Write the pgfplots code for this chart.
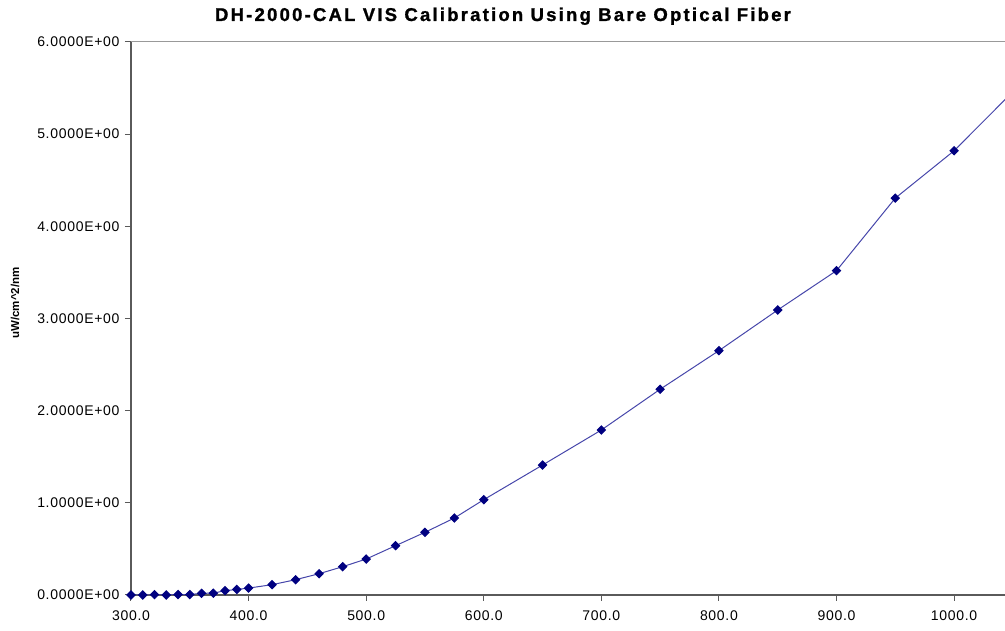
\documentclass[border=0pt]{standalone}
\usepackage{pgfplots}
\pgfplotsset{compat=1.18}
\usepackage{fontspec}
\setmainfont{Liberation Sans}
\newfontfamily\titlefont[LetterSpace=12,FakeBold=1.2]{Liberation Sans Bold}
\newfontfamily\tickfont[LetterSpace=5]{Liberation Sans}
\definecolor{navy}{RGB}{0,0,128}
\definecolor{lineblue}{RGB}{70,70,170}
\definecolor{axgray}{RGB}{90,90,90}
\begin{document}
\begin{tikzpicture}
\path[use as bounding box] (-131pt,-36pt) rectangle (874pt,595pt);
\begin{axis}[
  at={(0,0)}, anchor=south west,
  scale only axis, width=874pt, height=553pt,
  xmin=300, xmax=1043.3, ymin=0, ymax=6,
  axis x line*=bottom, axis y line*=left,
  axis line style={axgray, line width=1.2pt},
  tick style={axgray, line width=1pt},
  tick align=outside, major tick length=6pt,
  xtick={300,400,500,600,700,800,900,1000},
  xticklabels={300.0,400.0,500.0,600.0,700.0,800.0,900.0,1000.0},
  ytick={0,1,2,3,4,5,6},
  yticklabels={0.0000E+00,1.0000E+00,2.0000E+00,3.0000E+00,4.0000E+00,5.0000E+00,6.0000E+00},
  ticklabel style={font=\tickfont\fontsize{14}{16}\selectfont},
  xticklabel style={yshift=-6pt},
  yticklabel style={xshift=-2pt},
  clip=true,
]
\draw[gray!80, line width=1pt] (rel axis cs:0,1) -- (rel axis cs:1,1);
\addplot[lineblue, line width=1pt, mark=square*, mark size=2.9pt,
  mark options={navy, fill=navy, draw=navy, rotate=45}] coordinates {
(300,0.000) (310,0.000) (320,0.004) (330,0.000) (340,0.005) (350,0.005)
(360,0.018) (370,0.020) (380,0.047) (390,0.060) (400,0.075) (420,0.112)
(440,0.166) (460,0.231) (480,0.307) (500,0.390) (525,0.535) (550,0.680)
(575,0.835) (600,1.034) (650,1.410) (700,1.790) (750,2.232) (800,2.651)
(850,3.092) (900,3.519) (950,4.306) (1000,4.820) (1050,5.460)
};
\end{axis}
\node[anchor=base, inner sep=0pt] at (372pt,574pt) {\titlefont\fontsize{18.5}{22}\selectfont DH-2000-CAL VIS Calibration Using Bare Optical Fiber};
\node[rotate=90, anchor=center, inner sep=0pt] at (-116pt,292pt) {\bfseries\fontsize{11.5}{14}\selectfont uW/cm\^{}2/nm};
\end{tikzpicture}
\end{document}
